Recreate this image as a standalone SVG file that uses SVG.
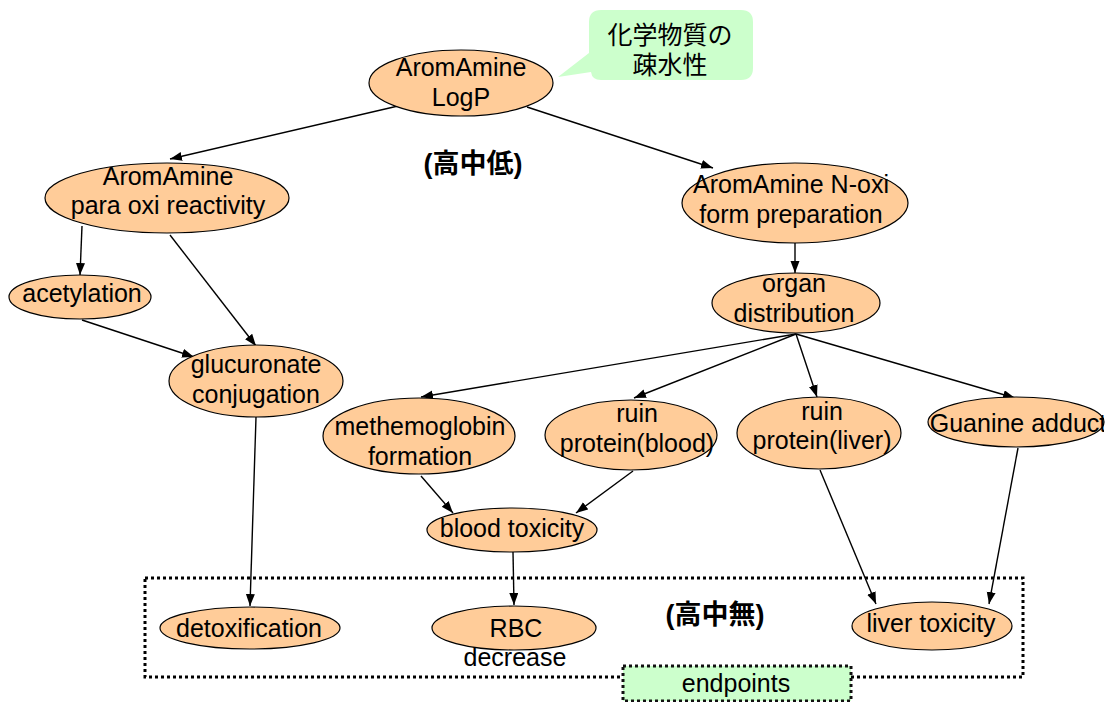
<svg xmlns="http://www.w3.org/2000/svg" width="1110" height="702" viewBox="0 0 1110 702">
<style>
.n{fill:#ffcc99;stroke:#000;stroke-width:1.2}
.t{font-family:"Liberation Sans","Noto Sans CJK JP",Arial,sans-serif;font-size:25px;fill:#000;text-anchor:middle}
.b{font-weight:bold;font-size:27px}
.e{stroke:#000;stroke-width:1.4;fill:none;marker-end:url(#ah)}
</style>
<defs>
<marker id="ah" markerUnits="userSpaceOnUse" markerWidth="13" markerHeight="10" refX="12" refY="4.5" orient="auto">
<path d="M0,0 L12,4.5 L0,9 z" fill="#000"/>
</marker>
<clipPath id="gclip"><rect x="900" y="390" width="204" height="70"/></clipPath>
</defs>
<rect width="1110" height="702" fill="#fff"/>

<g id="endpoints-frame">
<rect x="145" y="578" width="878" height="99" fill="none" stroke="#000" stroke-width="3" stroke-dasharray="3,3"/>
</g>
<g id="endpoints-label">
<rect x="623" y="666" width="228" height="35" fill="#ccffcc" stroke="#111" stroke-width="3" stroke-dasharray="3,3"/>
<text class="t" x="736" y="692" font-size="22">endpoints</text>
</g>

<g id="callout">
<path d="M601,10 H741 Q753,10 753,22 V68 Q753,80 741,80 H601 Q592,80 591,72 L558,77 L589,53 V22 Q589,10 601,10 Z" fill="#ccffcc"/>
<text class="t" x="670" y="44">化学物質の</text>
<text class="t" x="670" y="74">疎水性</text>
</g>

<g id="connectors">
<line class="e" x1="398" y1="106" x2="170" y2="159"/>
<line class="e" x1="527" y1="107" x2="713" y2="168"/>
<line class="e" x1="82" y1="226" x2="80" y2="275"/>
<line class="e" x1="170" y1="235" x2="256" y2="346"/>
<line class="e" x1="82" y1="320" x2="194" y2="357"/>
<line class="e" x1="795" y1="243" x2="795" y2="273"/>
<line class="e" x1="796" y1="334" x2="421" y2="397"/>
<line class="e" x1="796" y1="334" x2="634" y2="398"/>
<line class="e" x1="796" y1="334" x2="817" y2="397"/>
<line class="e" x1="796" y1="334" x2="1015" y2="398"/>
<line class="e" x1="256" y1="417" x2="250" y2="606"/>
<line class="e" x1="421" y1="476" x2="453" y2="513"/>
<line class="e" x1="633" y1="471" x2="576" y2="513"/>
<line class="e" x1="513" y1="552" x2="514" y2="605"/>
<line class="e" x1="820" y1="470" x2="876" y2="604"/>
<line class="e" x1="1018" y1="448" x2="989" y2="604"/>
</g>

<g id="logp">
<ellipse class="n" cx="461" cy="83" rx="92" ry="33"/>
<text class="t" x="461" y="76">AromAmine</text>
<text class="t" x="461" y="106">LogP</text>
</g>
<g id="para-oxi">
<ellipse class="n" cx="167" cy="198" rx="122" ry="35"/>
<text class="t" x="168" y="185">AromAmine</text>
<text class="t" x="168" y="214">para oxi reactivity</text>
</g>
<g id="acetylation">
<ellipse class="n" cx="80" cy="297" rx="71" ry="22"/>
<text class="t" x="82" y="302">acetylation</text>
</g>
<g id="glucuronate">
<ellipse class="n" cx="256" cy="381" rx="87" ry="36"/>
<text class="t" x="256" y="373">glucuronate</text>
<text class="t" x="256" y="403">conjugation</text>
</g>
<g id="n-oxi">
<ellipse class="n" cx="795" cy="203" rx="113" ry="40"/>
<text class="t" x="791" y="193">AromAmine N-oxi</text>
<text class="t" x="791" y="223">form preparation</text>
</g>
<g id="organ">
<ellipse class="n" cx="796" cy="303" rx="84" ry="30"/>
<text class="t" x="794" y="292">organ</text>
<text class="t" x="794" y="322">distribution</text>
</g>
<g id="methemoglobin">
<ellipse class="n" cx="419" cy="436" rx="96" ry="38"/>
<text class="t" x="420" y="435">methemoglobin</text>
<text class="t" x="420" y="465">formation</text>
</g>
<g id="ruin-blood">
<ellipse class="n" cx="631" cy="435" rx="86" ry="35"/>
<text class="t" x="637" y="422">ruin</text>
<text class="t" x="637" y="452">protein(blood)</text>
</g>
<g id="ruin-liver">
<ellipse class="n" cx="819" cy="433" rx="82" ry="36"/>
<text class="t" x="822" y="420">ruin</text>
<text class="t" x="822" y="449">protein(liver)</text>
</g>
<g id="guanine">
<ellipse class="n" cx="1016" cy="422" rx="88" ry="25"/>
<text class="t" x="1018" y="432" clip-path="url(#gclip)">Guanine adduct</text>
</g>
<g id="blood-toxicity">
<ellipse class="n" cx="512" cy="530" rx="85" ry="22"/>
<text class="t" x="512" y="537">blood toxicity</text>
</g>
<g id="detoxification">
<ellipse class="n" cx="250" cy="628" rx="90" ry="21"/>
<text class="t" x="249" y="637">detoxification</text>
</g>
<g id="rbc">
<ellipse class="n" cx="514" cy="628" rx="82" ry="22"/>
<text class="t" x="516" y="637">RBC</text>
<text class="t" x="515" y="666" font-size="24">decrease</text>
</g>
<g id="liver-toxicity">
<ellipse class="n" cx="932" cy="626" rx="80" ry="24"/>
<text class="t" x="931" y="632">liver toxicity</text>
</g>

<g id="labels">
<text class="t b" x="473" y="173">(高中低)</text>
<text class="t b" x="715" y="624">(高中無)</text>
</g>
</svg>
